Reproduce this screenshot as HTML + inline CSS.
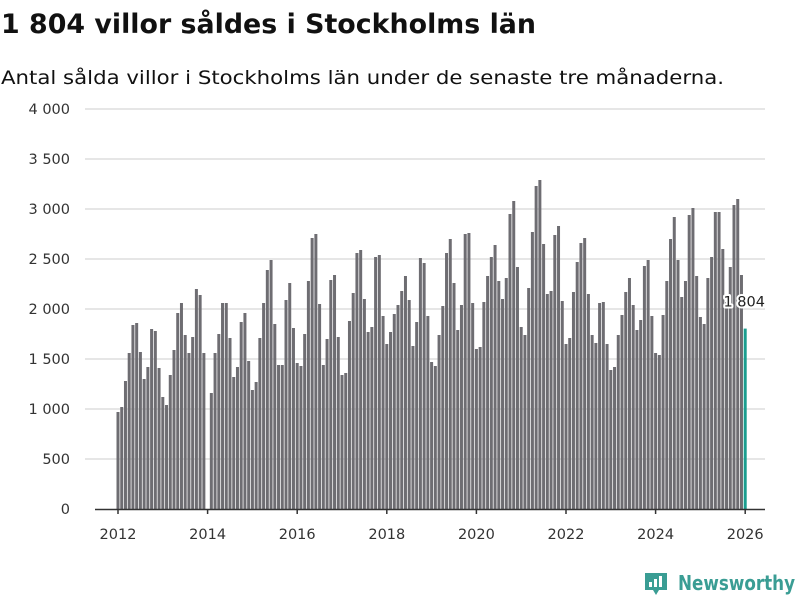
<!DOCTYPE html>
<html><head><meta charset="utf-8"><style>
html,body{margin:0;padding:0;background:#fff;width:800px;height:600px;overflow:hidden}
svg{display:block;font-family:"DejaVu Sans","Liberation Sans",sans-serif}
</style></head><body>
<svg id="chart" width="800" height="600">
<text x="1" y="33" font-size="27" font-weight="bold" fill="#111" textLength="535" lengthAdjust="spacingAndGlyphs">1 804 villor såldes i Stockholms län</text>
<text x="1" y="84" font-size="19" fill="#111" textLength="723" lengthAdjust="spacingAndGlyphs">Antal sålda villor i Stockholms län under de senaste tre månaderna.</text>
<g id="grid"></g><g id="bars"></g><g id="axes"></g>
<g>
<path d="M645 573 h22 v17 h-8 l-3 5 l-3 -5 h-8 z" fill="#3a9d94"/>
<rect x="649" y="582" width="3" height="5" fill="#fff"/><rect x="654" y="579" width="3" height="8" fill="#fff"/><rect x="659" y="576" width="3" height="11" fill="#fff"/>
<text x="678" y="590" font-size="20" font-weight="bold" fill="#3a9d94" textLength="117" lengthAdjust="spacingAndGlyphs">Newsworthy</text>
</g>
</svg>
<script>
const yTicks=[0,500,1000,1500,2000,2500,3000,3500,4000];
const yTickLabels=["0","500","1 000","1 500","2 000","2 500","3 000","3 500","4 000"];
const xTicks=[2012,2014,2016,2018,2020,2022,2024,2026];
const startYear=2012;
const values=[
970,1020,1280,1560,1840,1860,1570,1300,1420,1800,1780,1410,
1120,1040,1340,1590,1960,2060,1740,1560,1720,2200,2140,1560,
null,1160,1560,1750,2060,2060,1710,1320,1420,1870,1960,1480,
1190,1270,1710,2060,2390,2490,1850,1440,1440,2090,2260,1810,
1460,1430,1750,2280,2710,2750,2050,1440,1700,2290,2340,1720,
1340,1360,1880,2160,2560,2590,2100,1770,1820,2520,2540,1930,
1650,1770,1950,2040,2180,2330,2090,1630,1870,2510,2460,1930,
1470,1430,1740,2030,2560,2700,2260,1790,2040,2750,2760,2060,
1600,1620,2070,2330,2520,2640,2280,2100,2310,2950,3080,2420,
1820,1740,2210,2770,3230,3290,2650,2150,2180,2740,2830,2080,
1650,1710,2170,2470,2660,2710,2150,1740,1660,2060,2070,1650,
1390,1420,1740,1940,2170,2310,2040,1790,1890,2430,2490,1930,
1560,1540,1940,2280,2700,2920,2490,2120,2280,2940,3010,2330,
1920,1850,2310,2520,2970,2970,2600,2070,2420,3040,3100,2340,
1804];
const lastLabel="1 804";
const NS="http://www.w3.org/2000/svg";
const y=v=>509-v*0.1;
const x=t=>118+(t-startYear)*44.8;
function el(tag,attrs,parent,text){const e=document.createElementNS(NS,tag);for(const k in attrs)e.setAttribute(k,attrs[k]);if(text!==undefined)e.textContent=text;parent.appendChild(e);return e;}
const grid=document.getElementById('grid'),bars=document.getElementById('bars'),axes=document.getElementById('axes');
yTicks.forEach((v,i)=>{
  if(v>0){const l=el('line',{x1:85,x2:765,y1:y(v),y2:y(v),stroke:'#dedede','stroke-width':1.5},grid);
  
  }
  const t=el('text',{x:70,y:y(v)+5,'font-size':14.5,'text-anchor':'end',fill:'#333'},axes,yTickLabels[i]);
  
  
});
values.forEach((v,i)=>{
  if(v==null)return;
  const cx=x(startYear+i/12);
  const last=i===values.length-1;
  const r=el('rect',{x:cx-1.5,y:y(v),width:3,height:509-y(v),fill:last?'#1a9e8f':'#6e6d72'},bars);
  
  
  if(last){
    const t=el('text',{x:cx-1,y:y(v)-22,'font-size':14.5,'text-anchor':'middle',fill:'#222',stroke:'#fff','stroke-width':4,'paint-order':'stroke','stroke-linejoin':'round'},axes,lastLabel);
    
    
  }
});
const base=el('line',{x1:95,x2:765,y1:509.5,y2:509.5,stroke:'#333','stroke-width':1.5},axes);


xTicks.forEach(yr=>{
  const px=x(yr);
  const tk=el('line',{x1:px,x2:px,y1:509,y2:514,stroke:'#333','stroke-width':1.5},axes);
  
  
  const t=el('text',{x:px,y:539,'font-size':14.5,'text-anchor':'middle',fill:'#333'},axes,String(yr));
  
  
});
</script>
</body></html>
